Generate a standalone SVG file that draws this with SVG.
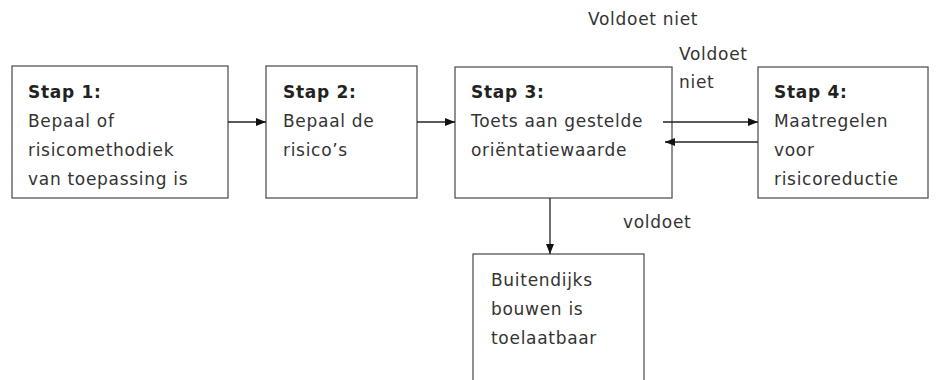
<svg xmlns="http://www.w3.org/2000/svg" width="936" height="380" viewBox="0 0 936 380">
<defs>
<marker id="ah" markerWidth="10" markerHeight="8" refX="10" refY="4" orient="auto" markerUnits="userSpaceOnUse">
<path d="M0,0 L10,4 L0,8 z" fill="#111"/>
</marker>
<style>
.box{fill:#fff;stroke:#555;stroke-width:1.3}
.t{font-family:"DejaVu Sans",Verdana,sans-serif;font-size:17px;letter-spacing:0.7px;fill:#333}
.b{font-weight:bold;fill:#222}
.c{stroke:#222;stroke-width:1.3;fill:none;marker-end:url(#ah)}
</style>
</defs>
<rect width="936" height="380" fill="#fff"/>
<g id="stap1">
<rect class="box" x="12" y="66" width="216" height="132"/>
<text class="t b" x="28" y="98">Stap 1:</text>
<text class="t" x="28" y="127">Bepaal of</text>
<text class="t" x="28" y="156">risicomethodiek</text>
<text class="t" x="28" y="185">van toepassing is</text>
</g>
<g id="stap2">
<rect class="box" x="266" y="66" width="151" height="132"/>
<text class="t b" x="283" y="98">Stap 2:</text>
<text class="t" x="283" y="127">Bepaal de</text>
<text class="t" x="283" y="156">risico’s</text>
</g>
<g id="stap3">
<rect class="box" x="455" y="67" width="217" height="131"/>
<text class="t b" x="471" y="98">Stap 3:</text>
<text class="t" x="471" y="127">Toets aan gestelde</text>
<text class="t" x="471" y="156">oriëntatiewaarde</text>
</g>
<g id="stap4">
<rect class="box" x="758" y="67" width="170" height="131"/>
<text class="t b" x="774" y="98">Stap 4:</text>
<text class="t" x="774" y="127">Maatregelen</text>
<text class="t" x="774" y="156">voor</text>
<text class="t" x="774" y="185">risicoreductie</text>
</g>
<g id="buiten">
<rect class="box" x="473" y="254" width="171" height="130"/>
<text class="t" x="491" y="286">Buitendijks</text>
<text class="t" x="491" y="315">bouwen is</text>
<text class="t" x="491" y="344">toelaatbaar</text>
</g>
<g id="labels">
<text class="t" x="588" y="25">Voldoet niet</text>
<text class="t" x="679" y="60">Voldoet</text>
<text class="t" x="679" y="88">niet</text>
<text class="t" x="623" y="228">voldoet</text>
</g>
<g id="connectors">
<line class="c" x1="228" y1="122" x2="266" y2="122"/>
<line class="c" x1="417" y1="122" x2="455" y2="122"/>
<line class="c" x1="663" y1="122" x2="758" y2="122"/>
<line class="c" x1="758" y1="142" x2="665" y2="142"/>
<line class="c" x1="550" y1="198" x2="550" y2="254"/>
</g>
</svg>
